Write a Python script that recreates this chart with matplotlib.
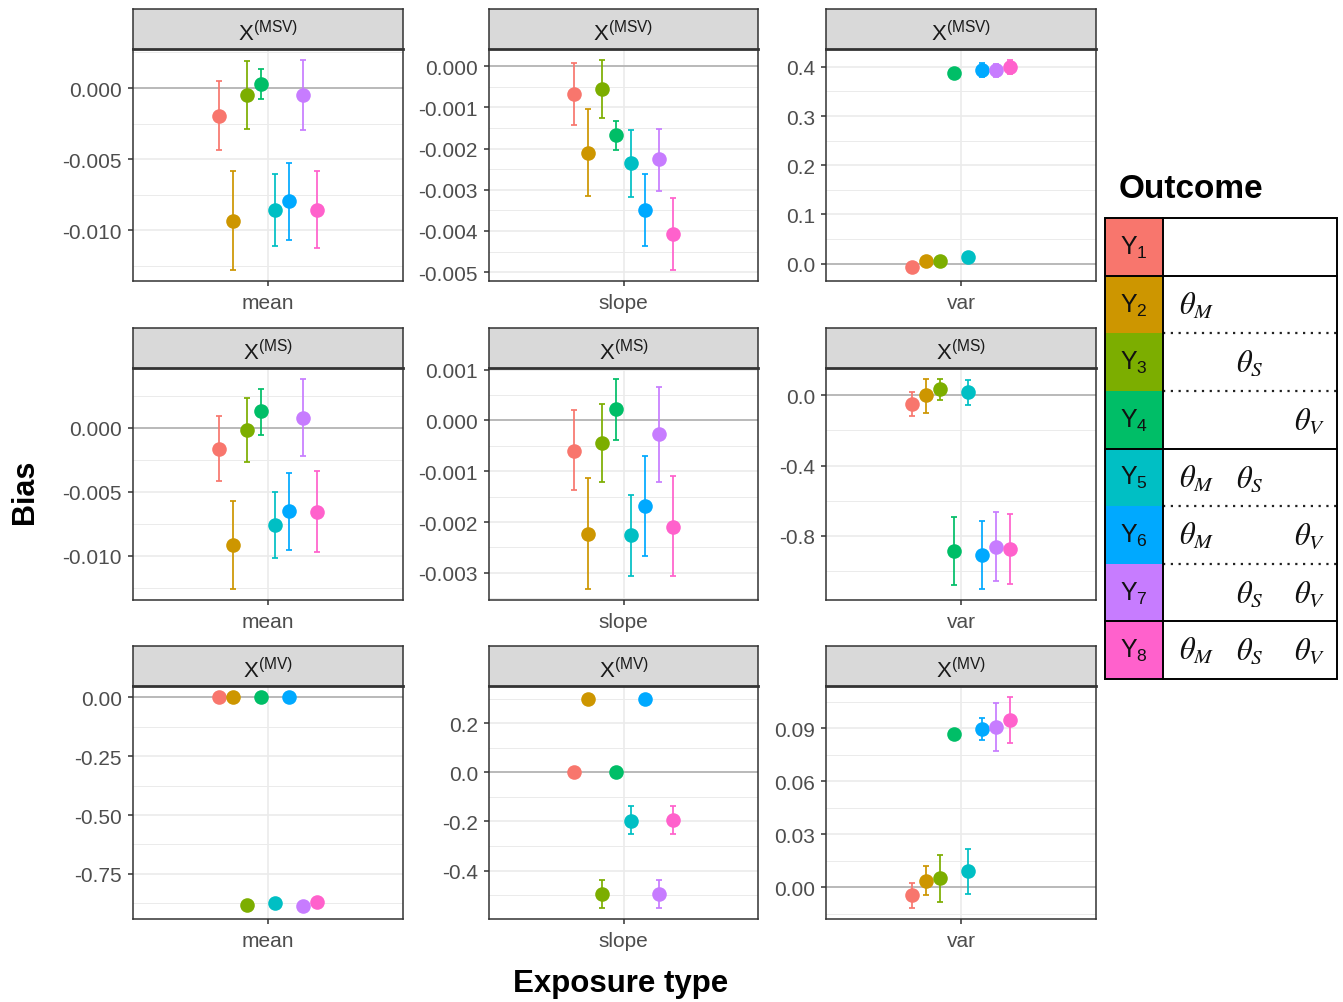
import matplotlib
matplotlib.use("Agg")
import matplotlib.pyplot as plt
from matplotlib.patches import Rectangle
import numpy as np

plt.rcParams['font.family'] = ['Liberation Sans', 'DejaVu Sans']
plt.rcParams['axes.unicode_minus'] = False

W, H = 1343, 1003

# ---------------- data ----------------
outcomes = ['Y1', 'Y2', 'Y3', 'Y4', 'Y5', 'Y6', 'Y7', 'Y8']
outcome_colors = ['#F8766D', '#CD9600', '#7CAE00', '#00BE67',
                  '#00BFC4', '#00A9FF', '#C77CFF', '#FF61CC']
exposures = ['MSV', 'MS', 'MV']
exposure_types = ['mean', 'slope', 'var']

# X(MSV)
msv_mean_est = [-0.00195, -0.00932, -0.00051, 0.00026, -0.00855, -0.00795, -0.00049, -0.00853]
msv_mean_lo = [-0.00437, -0.01281, -0.00286, -0.00077, -0.01111, -0.01065, -0.00293, -0.01123]
msv_mean_hi = [0.00051, -0.00586, 0.00188, 0.00132, -0.00602, -0.00525, 0.00200, -0.00586]

msv_slope_est = [-0.000686, -0.002118, -0.000548, -0.001667, -0.002353, -0.003495, -0.002263, -0.004082]
msv_slope_lo = [-0.001425, -0.003164, -0.001256, -0.002029, -0.003174, -0.004357, -0.003036, -0.004960]
msv_slope_hi = [0.000080, -0.001039, 0.000160, -0.001321, -0.001556, -0.002626, -0.001514, -0.003205]

msv_var_est = [-0.0061, 0.0048, 0.0061, 0.3884, 0.0136, 0.3939, 0.3932, 0.4000]
msv_var_lo = [-0.0141, -0.0012, 0.0001, 0.3844, 0.0076, 0.3799, 0.3802, 0.3850]
msv_var_hi = [0.0019, 0.0108, 0.0121, 0.3924, 0.0196, 0.4079, 0.4062, 0.4150]

# X(MS)
ms_mean_est = [-0.00163, -0.00920, -0.00016, 0.00128, -0.00762, -0.00653, 0.00078, -0.00656]
ms_mean_lo = [-0.00414, -0.01264, -0.00269, -0.00054, -0.01016, -0.00953, -0.00222, -0.00974]
ms_mean_hi = [0.00089, -0.00575, 0.00233, 0.00306, -0.00502, -0.00352, 0.00384, -0.00342]

ms_slope_est = [-0.000596, -0.002230, -0.000445, 0.000222, -0.002262, -0.001686, -0.000269, -0.002098]
ms_slope_lo = [-0.001367, -0.003327, -0.001210, -0.000386, -0.003065, -0.002661, -0.001210, -0.003065]
ms_slope_hi = [0.000208, -0.001130, 0.000320, 0.000824, -0.001465, -0.000693, 0.000659, -0.001092]

ms_var_est = [-0.0528, -0.0019, 0.0340, -0.8849, 0.0170, -0.9110, -0.8600, -0.8740]
ms_var_lo = [-0.1208, -0.1000, -0.0264, -1.0790, -0.0547, -1.1040, -1.0550, -1.0750]
ms_var_hi = [0.0189, 0.0943, 0.0943, -0.6906, 0.0868, -0.7130, -0.6620, -0.6740]

# X(MV)
mv_mean_est = [0.000, 0.000, -0.883, 0.000, -0.872, 0.000, -0.884, -0.870]
mv_mean_lo = [-0.002, -0.002, -0.895, -0.002, -0.883, -0.002, -0.896, -0.881]
mv_mean_hi = [0.002, 0.002, -0.871, 0.002, -0.861, 0.002, -0.872, -0.859]

mv_slope_est = [0.000, 0.2986, -0.497, 0.000, -0.197, 0.2986, -0.497, -0.196]
mv_slope_lo = [-0.003, 0.290, -0.554, -0.003, -0.2525, 0.290, -0.554, -0.2525]
mv_slope_hi = [0.003, 0.308, -0.4387, 0.003, -0.1385, 0.308, -0.4387, -0.1385]

mv_var_est = [-0.0047, 0.0034, 0.0049, 0.0866, 0.0091, 0.0897, 0.0906, 0.0949]
mv_var_lo = [-0.0121, -0.0047, -0.0087, 0.0851, -0.0037, 0.0834, 0.0770, 0.0817]
mv_var_hi = [0.0025, 0.0117, 0.0181, 0.0881, 0.0217, 0.0959, 0.1042, 0.1080]

# y-axis tick values per panel
msv_mean_ticks = [0.000, -0.005, -0.010]
msv_slope_ticks = [0.000, -0.001, -0.002, -0.003, -0.004, -0.005]
msv_var_ticks = [0.0, 0.1, 0.2, 0.3, 0.4]
ms_mean_ticks = [0.000, -0.005, -0.010]
ms_slope_ticks = [0.001, 0.000, -0.001, -0.002, -0.003]
ms_var_ticks = [0.0, -0.4, -0.8]
mv_mean_ticks = [0.00, -0.25, -0.50, -0.75]
mv_slope_ticks = [0.2, 0.0, -0.2, -0.4]
mv_var_ticks = [0.00, 0.03, 0.06, 0.09]

# legend: which parameters are affected for each outcome
legend_params = [[], ['M'], ['S'], ['V'], ['M', 'S'], ['M', 'V'], ['S', 'V'], ['M', 'S', 'V']]

panels = {
    ('MSV', 'mean'): (msv_mean_est, msv_mean_lo, msv_mean_hi, msv_mean_ticks, 3),
    ('MSV', 'slope'): (msv_slope_est, msv_slope_lo, msv_slope_hi, msv_slope_ticks, 3),
    ('MSV', 'var'): (msv_var_est, msv_var_lo, msv_var_hi, msv_var_ticks, 1),
    ('MS', 'mean'): (ms_mean_est, ms_mean_lo, ms_mean_hi, ms_mean_ticks, 3),
    ('MS', 'slope'): (ms_slope_est, ms_slope_lo, ms_slope_hi, ms_slope_ticks, 3),
    ('MS', 'var'): (ms_var_est, ms_var_lo, ms_var_hi, ms_var_ticks, 1),
    ('MV', 'mean'): (mv_mean_est, mv_mean_lo, mv_mean_hi, mv_mean_ticks, 2),
    ('MV', 'slope'): (mv_slope_est, mv_slope_lo, mv_slope_hi, mv_slope_ticks, 1),
    ('MV', 'var'): (mv_var_est, mv_var_lo, mv_var_hi, mv_var_ticks, 2),
}

# ---------------- layout (pixels) ----------------
col_px = [(133, 403), (489, 758), (826, 1096)]
row_px = [(10, 50, 282), (329, 369, 601), (647, 687, 920)]


def frac(x0, y0, x1, y1):
    return [x0 / W, 1 - y1 / H, (x1 - x0) / W, (y1 - y0) / H]


fig = plt.figure(figsize=(W / 100, H / 100), dpi=100)

dodge = 0.5
n = len(outcomes)
offsets = (np.arange(n) - (n - 1) / 2) * dodge / n

GRID = '#EBEBEB'
DARK = '#333333'
LABEL = '#4D4D4D'

for r, expo in enumerate(exposures):
    st, pt, pb = row_px[r]
    for c, et in enumerate(exposure_types):
        x0, x1 = col_px[c]
        est, lo, hi, ticks, dec = panels[(expo, et)]
        est = np.array(est); lo = np.array(lo); hi = np.array(hi)

        ax = fig.add_axes(frac(x0, pt, x1, pb))
        ymin, ymax = min(lo.min(), 0), max(hi.max(), 0)
        pad = 0.05 * (ymax - ymin)
        ax.set_ylim(ymin - pad, ymax + pad)
        ax.set_xlim(0.4, 1.6)

        # grid
        step = abs(ticks[1] - ticks[0])
        tmin, tmax = min(ticks), max(ticks)
        k = np.arange(-6, int(round((tmax - tmin) / step)) * 2 + 7)
        minors = tmin + k * step / 2
        for m in minors:
            frac_part = ((m - tmin) / step) % 1
            is_major = np.isclose(frac_part, 0, atol=1e-6) or np.isclose(frac_part, 1, atol=1e-6)
            if ymin - pad < m < ymax + pad:
                ax.axhline(m, color=GRID, lw=1.2 if is_major else 0.7, zorder=0)
        ax.axvline(1, color=GRID, lw=1.2, zorder=0)
        ax.axhline(0, color='#ABABAB', lw=1.1, zorder=1)

        xs = 1 + offsets
        for i in range(n):
            ax.errorbar(xs[i], est[i], yerr=[[est[i] - lo[i]], [hi[i] - est[i]]],
                        fmt='none', ecolor=outcome_colors[i], elinewidth=1.25,
                        capsize=2.4, capthick=1.25, zorder=2)
            ax.plot(xs[i], est[i], 'o', ms=10.5, color=outcome_colors[i],
                    mec='none', zorder=3)

        ax.set_yticks(ticks)
        ax.set_yticklabels([f"{t:.{dec}f}" for t in ticks])
        ax.set_xticks([1])
        ax.set_xticklabels([et])
        ax.tick_params(axis='both', length=3.5, width=1.1, color=DARK,
                       labelcolor=LABEL, labelsize=15, pad=4.5)
        ax.tick_params(axis='x', pad=5)
        for sp in ax.spines.values():
            sp.set_color(DARK)
            sp.set_linewidth(1.1)
        ax.set_facecolor('white')

        sax = fig.add_axes(frac(x0, st, x1, pt))
        sax.set_facecolor('#D9D9D9')
        sax.set_xticks([]); sax.set_yticks([])
        for sp in sax.spines.values():
            sp.set_color(DARK)
            sp.set_linewidth(1.1)
        sax.spines['bottom'].set_linewidth(2.0)
        sax.text(0.5, 0.40, r'$\mathregular{X^{(%s)}}$' % expo, transform=sax.transAxes,
                 ha='center', va='center', fontsize=16, color='#1A1A1A')

# axis titles
fig.text(25 / W, 1 - 492 / H, 'Bias', rotation=90, ha='center', va='center',
         fontsize=22, fontweight='bold', color='black')
fig.text(621 / W, 1 - 984 / H, 'Exposure type', ha='center', va='center',
         fontsize=22.5, fontweight='bold', color='black')

# ---------------- legend table ----------------
fig.text(1191 / W, 1 - 190 / H, 'Outcome', ha='center', va='center',
         fontsize=24, fontweight='bold', color='black')

lx0, lx1, ly0, ly1 = 1105, 1337, 219, 680
cx = 1163
lax = fig.add_axes(frac(lx0 - 2, ly0 - 2, lx1 + 2, ly1 + 2))
lax.set_xlim(lx0 - 2, lx1 + 2)
lax.set_ylim(ly1 + 2, ly0 - 2)
lax.axis('off')
rh = (ly1 - ly0) / n
param_x = {'M': 1197, 'S': 1250, 'V': 1310}
for i in range(n):
    top = ly0 + i * rh
    lax.add_patch(Rectangle((lx0, top), cx - lx0, rh, facecolor=outcome_colors[i],
                            edgecolor='none', zorder=1))
    lax.text((lx0 + cx) / 2, top + rh / 2, r'$\mathregular{Y_{%d}}$' % (i + 1),
             ha='center', va='center', fontsize=18, color='#111111', zorder=3)
    for p in legend_params[i]:
        lax.text(param_x[p], top + rh / 2 + 1, r'$\theta_{%s}$' % p,
                 ha='center', va='center', fontsize=22, math_fontfamily='stix',
                 color='#111111', zorder=3)
    if i > 0:
        if i in (1, 4, 7):
            lax.plot([lx0, lx1], [top, top], color='black', lw=1.4, zorder=4)
        else:
            lax.plot([cx, lx1], [top, top], color='#222222', lw=1.6,
                     ls=(0, (1, 2.5)), zorder=4)
lax.add_patch(Rectangle((lx0, ly0), lx1 - lx0, ly1 - ly0, facecolor='none',
                        edgecolor='black', lw=1.4, zorder=5))
lax.plot([cx, cx], [ly0, ly1], color='black', lw=1.4, zorder=5)

fig.savefig('out.png', dpi=100)
